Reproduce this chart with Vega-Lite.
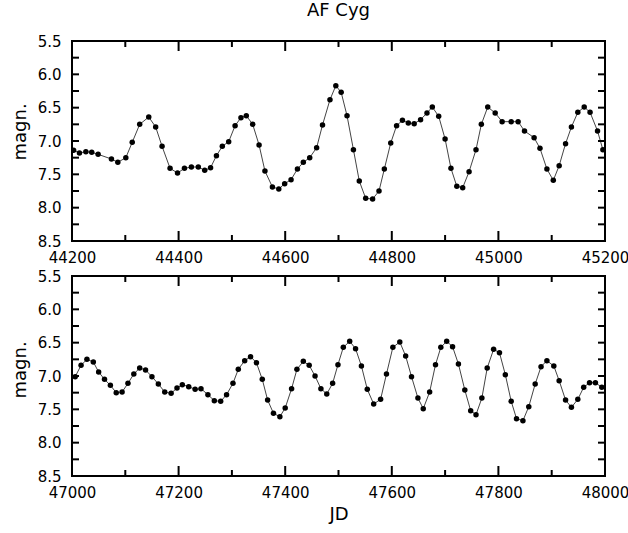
{
  "$schema": "https://vega.github.io/schema/vega-lite/v6.json",
  "background": "white",
  "padding": {"left": 10, "top": 1, "right": 5, "bottom": 5},
  "spacing": 2,
  "datasets": {
    "top": [
      {"jd":44203,"mag":7.14},{"jd":44214,"mag":7.18},{"jd":44226,"mag":7.16},{"jd":44237,"mag":7.17},{"jd":44249,"mag":7.20},{"jd":44274,"mag":7.27},{"jd":44286,"mag":7.32},{"jd":44301,"mag":7.25},{"jd":44313,"mag":7.02},{"jd":44327,"mag":6.75},{"jd":44344,"mag":6.64},{"jd":44357,"mag":6.79},{"jd":44369,"mag":7.08},{"jd":44384,"mag":7.41},{"jd":44398,"mag":7.48},{"jd":44411,"mag":7.41},{"jd":44424,"mag":7.39},{"jd":44437,"mag":7.39},{"jd":44449,"mag":7.44},{"jd":44460,"mag":7.40},{"jd":44471,"mag":7.22},{"jd":44482,"mag":7.08},{"jd":44494,"mag":7.01},{"jd":44506,"mag":6.77},{"jd":44517,"mag":6.65},{"jd":44527,"mag":6.62},{"jd":44539,"mag":6.75},{"jd":44551,"mag":7.06},{"jd":44562,"mag":7.45},{"jd":44576,"mag":7.69},{"jd":44588,"mag":7.72},{"jd":44599,"mag":7.64},{"jd":44611,"mag":7.58},{"jd":44623,"mag":7.42},{"jd":44634,"mag":7.32},{"jd":44646,"mag":7.25},{"jd":44659,"mag":7.10},{"jd":44670,"mag":6.76},{"jd":44684,"mag":6.38},{"jd":44695,"mag":6.17},{"jd":44705,"mag":6.27},{"jd":44716,"mag":6.62},{"jd":44728,"mag":7.13},{"jd":44739,"mag":7.60},{"jd":44751,"mag":7.86},{"jd":44764,"mag":7.87},{"jd":44776,"mag":7.75},{"jd":44786,"mag":7.42},{"jd":44798,"mag":7.03},{"jd":44809,"mag":6.77},{"jd":44820,"mag":6.69},{"jd":44831,"mag":6.73},{"jd":44842,"mag":6.74},{"jd":44854,"mag":6.68},{"jd":44866,"mag":6.58},{"jd":44876,"mag":6.49},{"jd":44888,"mag":6.63},{"jd":44900,"mag":6.97},{"jd":44911,"mag":7.41},{"jd":44922,"mag":7.68},{"jd":44933,"mag":7.70},{"jd":44945,"mag":7.46},{"jd":44958,"mag":7.13},{"jd":44968,"mag":6.75},{"jd":44980,"mag":6.49},{"jd":44994,"mag":6.58},{"jd":45007,"mag":6.71},{"jd":45024,"mag":6.71},{"jd":45037,"mag":6.71},{"jd":45049,"mag":6.85},{"jd":45067,"mag":6.95},{"jd":45078,"mag":7.11},{"jd":45091,"mag":7.42},{"jd":45103,"mag":7.59},{"jd":45114,"mag":7.37},{"jd":45126,"mag":7.04},{"jd":45137,"mag":6.79},{"jd":45149,"mag":6.57},{"jd":45161,"mag":6.49},{"jd":45172,"mag":6.57},{"jd":45186,"mag":6.85},{"jd":45196,"mag":7.13}
    ],
    "bottom": [
      {"jd":47006,"mag":7.01},{"jd":47017,"mag":6.84},{"jd":47028,"mag":6.75},{"jd":47040,"mag":6.79},{"jd":47050,"mag":6.94},{"jd":47061,"mag":7.05},{"jd":47072,"mag":7.14},{"jd":47083,"mag":7.25},{"jd":47094,"mag":7.24},{"jd":47105,"mag":7.11},{"jd":47116,"mag":6.97},{"jd":47127,"mag":6.88},{"jd":47138,"mag":6.91},{"jd":47150,"mag":7.01},{"jd":47162,"mag":7.12},{"jd":47174,"mag":7.24},{"jd":47186,"mag":7.26},{"jd":47197,"mag":7.18},{"jd":47207,"mag":7.13},{"jd":47219,"mag":7.16},{"jd":47231,"mag":7.20},{"jd":47242,"mag":7.19},{"jd":47255,"mag":7.28},{"jd":47267,"mag":7.37},{"jd":47279,"mag":7.38},{"jd":47290,"mag":7.28},{"jd":47302,"mag":7.11},{"jd":47312,"mag":6.90},{"jd":47324,"mag":6.77},{"jd":47335,"mag":6.71},{"jd":47346,"mag":6.80},{"jd":47357,"mag":7.05},{"jd":47367,"mag":7.36},{"jd":47378,"mag":7.56},{"jd":47390,"mag":7.61},{"jd":47400,"mag":7.48},{"jd":47412,"mag":7.19},{"jd":47422,"mag":6.90},{"jd":47434,"mag":6.78},{"jd":47445,"mag":6.84},{"jd":47456,"mag":7.00},{"jd":47467,"mag":7.19},{"jd":47478,"mag":7.27},{"jd":47489,"mag":7.11},{"jd":47499,"mag":6.83},{"jd":47509,"mag":6.57},{"jd":47521,"mag":6.48},{"jd":47532,"mag":6.59},{"jd":47543,"mag":6.85},{"jd":47554,"mag":7.20},{"jd":47566,"mag":7.42},{"jd":47579,"mag":7.35},{"jd":47590,"mag":6.97},{"jd":47602,"mag":6.57},{"jd":47615,"mag":6.49},{"jd":47626,"mag":6.70},{"jd":47637,"mag":7.01},{"jd":47649,"mag":7.33},{"jd":47659,"mag":7.49},{"jd":47671,"mag":7.24},{"jd":47682,"mag":6.83},{"jd":47692,"mag":6.57},{"jd":47703,"mag":6.48},{"jd":47714,"mag":6.56},{"jd":47725,"mag":6.82},{"jd":47737,"mag":7.21},{"jd":47748,"mag":7.52},{"jd":47758,"mag":7.58},{"jd":47769,"mag":7.33},{"jd":47779,"mag":6.88},{"jd":47791,"mag":6.60},{"jd":47802,"mag":6.65},{"jd":47813,"mag":6.98},{"jd":47824,"mag":7.38},{"jd":47834,"mag":7.64},{"jd":47846,"mag":7.67},{"jd":47857,"mag":7.46},{"jd":47869,"mag":7.12},{"jd":47880,"mag":6.86},{"jd":47891,"mag":6.77},{"jd":47904,"mag":6.85},{"jd":47914,"mag":7.07},{"jd":47926,"mag":7.36},{"jd":47937,"mag":7.47},{"jd":47949,"mag":7.35},{"jd":47960,"mag":7.17},{"jd":47971,"mag":7.10},{"jd":47982,"mag":7.10},{"jd":47994,"mag":7.17}
    ],
    "xt1": [
      {"jd":44200,"major":1},{"jd":44300,"major":0},{"jd":44400,"major":1},{"jd":44500,"major":0},{"jd":44600,"major":1},{"jd":44700,"major":0},{"jd":44800,"major":1},{"jd":44900,"major":0},{"jd":45000,"major":1},{"jd":45100,"major":0},{"jd":45200,"major":1}
    ],
    "xt2": [
      {"jd":47000,"major":1},{"jd":47100,"major":0},{"jd":47200,"major":1},{"jd":47300,"major":0},{"jd":47400,"major":1},{"jd":47500,"major":0},{"jd":47600,"major":1},{"jd":47700,"major":0},{"jd":47800,"major":1},{"jd":47900,"major":0},{"jd":48000,"major":1}
    ],
    "yt": [
      {"mag":5.5},{"mag":5.75},{"mag":6.0},{"mag":6.25},{"mag":6.5},{"mag":6.75},{"mag":7.0},{"mag":7.25},{"mag":7.5},{"mag":7.75},{"mag":8.0},{"mag":8.25},{"mag":8.5}
    ]
  },
  "vconcat": [
    {
      "width": 533,
      "height": 200,
      "title": {"text": "AF Cyg", "frame": "group", "anchor": "middle", "offset": 14},
      "layer": [
        {
          "data": {"name": "top"},
          "mark": {"type": "line", "color": "#444444", "strokeWidth": 1, "clip": true},
          "encoding": {
            "x": {"field": "jd", "type": "quantitative",
              "scale": {"domain": [44200, 45200], "nice": false, "zero": false},
              "axis": {"orient": "bottom", "title": null, "format": "d", "ticks": false,
                "values": [44200,44400,44600,44800,45000,45200], "labelPadding": 9}},
            "y": {"field": "mag", "type": "quantitative",
              "scale": {"domain": [5.5, 8.5], "reverse": true, "nice": false, "zero": false},
              "axis": {"orient": "left", "title": "magn.", "format": ".1f", "titleY": 119, "titleAlign": "left", "titlePadding": 8, "ticks": false,
                "values": [5.5,6,6.5,7,7.5,8,8.5], "labelPadding": 11}}
          }
        },
        {
          "data": {"name": "top"},
          "mark": {"type": "point", "filled": true, "color": "black", "size": 30, "opacity": 1, "clip": true},
          "encoding": {
            "x": {"field": "jd", "type": "quantitative", "axis": null},
            "y": {"field": "mag", "type": "quantitative", "axis": null}
          }
        },
        {
          "data": {"name": "xt1"},
          "transform": [{"filter": "datum.major == 1"}],
          "mark": {"type": "tick", "orient": "vertical", "color": "black", "thickness": 2, "size": 10, "opacity": 1, "yOffset": -5},
          "encoding": {
            "x": {"field": "jd", "type": "quantitative", "axis": null},
            "y": {"datum": 8.5, "type": "quantitative", "axis": null}
          }
        },
        {
          "data": {"name": "xt1"},
          "transform": [{"filter": "datum.major == 0"}],
          "mark": {"type": "tick", "orient": "vertical", "color": "black", "thickness": 2, "size": 6, "opacity": 1, "yOffset": -3},
          "encoding": {
            "x": {"field": "jd", "type": "quantitative", "axis": null},
            "y": {"datum": 8.5, "type": "quantitative", "axis": null}
          }
        },
        {
          "data": {"name": "xt1"},
          "transform": [{"filter": "datum.major == 1"}],
          "mark": {"type": "tick", "orient": "vertical", "color": "black", "thickness": 2, "size": 10, "opacity": 1, "yOffset": 5},
          "encoding": {
            "x": {"field": "jd", "type": "quantitative", "axis": null},
            "y": {"datum": 5.5, "type": "quantitative", "axis": null}
          }
        },
        {
          "data": {"name": "xt1"},
          "transform": [{"filter": "datum.major == 0"}],
          "mark": {"type": "tick", "orient": "vertical", "color": "black", "thickness": 2, "size": 6, "opacity": 1, "yOffset": 3},
          "encoding": {
            "x": {"field": "jd", "type": "quantitative", "axis": null},
            "y": {"datum": 5.5, "type": "quantitative", "axis": null}
          }
        },
        {
          "data": {"name": "yt"},
          "mark": {"type": "tick", "orient": "horizontal", "color": "black", "thickness": 2, "size": 7, "opacity": 1, "xOffset": 3.5},
          "encoding": {
            "y": {"field": "mag", "type": "quantitative", "axis": null},
            "x": {"datum": 44200, "type": "quantitative", "axis": null}
          }
        },
        {
          "data": {"name": "yt"},
          "mark": {"type": "tick", "orient": "horizontal", "color": "black", "thickness": 2, "size": 7, "opacity": 1, "xOffset": -3.5},
          "encoding": {
            "y": {"field": "mag", "type": "quantitative", "axis": null},
            "x": {"datum": 45200, "type": "quantitative", "axis": null}
          }
        }
      ],
      "resolve": {"axis": {"x": "independent", "y": "independent"}}
    },
    {
      "width": 533,
      "height": 200,
      "layer": [
        {
          "data": {"name": "bottom"},
          "mark": {"type": "line", "color": "#444444", "strokeWidth": 1, "clip": true},
          "encoding": {
            "x": {"field": "jd", "type": "quantitative",
              "scale": {"domain": [47000, 48000], "nice": false, "zero": false},
              "axis": {"orient": "bottom", "title": "JD", "format": "d", "titlePadding": 5, "ticks": false,
                "values": [47000,47200,47400,47600,47800,48000], "labelPadding": 9}},
            "y": {"field": "mag", "type": "quantitative",
              "scale": {"domain": [5.5, 8.5], "reverse": true, "nice": false, "zero": false},
              "axis": {"orient": "left", "title": "magn.", "format": ".1f", "titleY": 122, "titleAlign": "left", "titlePadding": 8, "ticks": false,
                "values": [5.5,6,6.5,7,7.5,8,8.5], "labelPadding": 11}}
          }
        },
        {
          "data": {"name": "bottom"},
          "mark": {"type": "point", "filled": true, "color": "black", "size": 30, "opacity": 1, "clip": true},
          "encoding": {
            "x": {"field": "jd", "type": "quantitative", "axis": null},
            "y": {"field": "mag", "type": "quantitative", "axis": null}
          }
        },
        {
          "data": {"name": "xt2"},
          "transform": [{"filter": "datum.major == 1"}],
          "mark": {"type": "tick", "orient": "vertical", "color": "black", "thickness": 2, "size": 10, "opacity": 1, "yOffset": -5},
          "encoding": {
            "x": {"field": "jd", "type": "quantitative", "axis": null},
            "y": {"datum": 8.5, "type": "quantitative", "axis": null}
          }
        },
        {
          "data": {"name": "xt2"},
          "transform": [{"filter": "datum.major == 0"}],
          "mark": {"type": "tick", "orient": "vertical", "color": "black", "thickness": 2, "size": 6, "opacity": 1, "yOffset": -3},
          "encoding": {
            "x": {"field": "jd", "type": "quantitative", "axis": null},
            "y": {"datum": 8.5, "type": "quantitative", "axis": null}
          }
        },
        {
          "data": {"name": "xt2"},
          "transform": [{"filter": "datum.major == 1"}],
          "mark": {"type": "tick", "orient": "vertical", "color": "black", "thickness": 2, "size": 10, "opacity": 1, "yOffset": 5},
          "encoding": {
            "x": {"field": "jd", "type": "quantitative", "axis": null},
            "y": {"datum": 5.5, "type": "quantitative", "axis": null}
          }
        },
        {
          "data": {"name": "xt2"},
          "transform": [{"filter": "datum.major == 0"}],
          "mark": {"type": "tick", "orient": "vertical", "color": "black", "thickness": 2, "size": 6, "opacity": 1, "yOffset": 3},
          "encoding": {
            "x": {"field": "jd", "type": "quantitative", "axis": null},
            "y": {"datum": 5.5, "type": "quantitative", "axis": null}
          }
        },
        {
          "data": {"name": "yt"},
          "mark": {"type": "tick", "orient": "horizontal", "color": "black", "thickness": 2, "size": 7, "opacity": 1, "xOffset": 3.5},
          "encoding": {
            "y": {"field": "mag", "type": "quantitative", "axis": null},
            "x": {"datum": 47000, "type": "quantitative", "axis": null}
          }
        },
        {
          "data": {"name": "yt"},
          "mark": {"type": "tick", "orient": "horizontal", "color": "black", "thickness": 2, "size": 7, "opacity": 1, "xOffset": -3.5},
          "encoding": {
            "y": {"field": "mag", "type": "quantitative", "axis": null},
            "x": {"datum": 48000, "type": "quantitative", "axis": null}
          }
        }
      ],
      "resolve": {"axis": {"x": "independent", "y": "independent"}}
    }
  ],
  "config": {
    "view": {"stroke": "black", "strokeWidth": 2},
    "axis": {"grid": false, "domain": false, "labelFont": "DejaVu Sans", "labelFontSize": 15, "labelColor": "black",
      "titleFont": "DejaVu Sans", "titleFontSize": 18, "titleFontWeight": "normal", "titleColor": "black",
      "labelOverlap": false, "labelFlush": false, "labelBound": false},
    "title": {"font": "DejaVu Sans", "fontSize": 18, "fontWeight": "normal", "color": "black"}
  }
}
